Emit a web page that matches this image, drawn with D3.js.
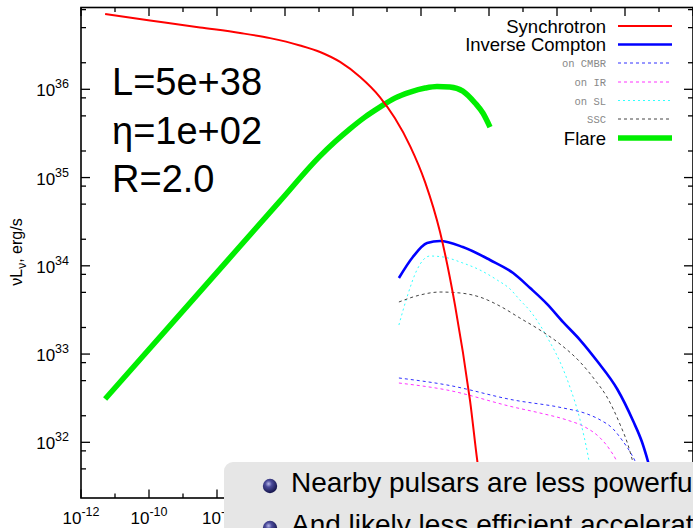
<!DOCTYPE html>
<html>
<head>
<meta charset="utf-8">
<script src="https://cdn.jsdelivr.net/npm/d3@7"></script>
<style>
  body { margin: 0; background: #fff; }
  svg { display: block; font-family: "Liberation Sans", Arial, sans-serif; }
</style>
</head>
<body>
<div id="chart"></div>
<script>
// curves, as [log10 nu, log10 nuL_nu]
const synchrotron = [[-11.29, 36.853], [-9.97, 36.781], [-8.5, 36.701], [-7.32, 36.638], [-6.44, 36.580],
    [-5.56, 36.497], [-4.97, 36.423], [-4.38, 36.310], [-3.79, 36.139], [-3.21, 35.912], [-2.77, 35.674],
    [-2.32, 35.357], [-1.88, 34.949], [-1.44, 34.382], [-1.0, 33.555], [-0.56, 32.479], [-0.27, 31.595], [-0.09, 31.33]];
const inverseCompton = [[-2.65, 33.862], [-2.24, 34.100], [-1.82, 34.258], [-1.44, 34.281], [-0.77, 34.213],
    [0.03, 34.066], [0.71, 33.918], [1.21, 33.748], [1.71, 33.566], [2.18, 33.362], [2.68, 33.159],
    [3.18, 32.921], [3.77, 32.604], [4.24, 32.241], [4.5, 32.003], [4.68, 31.777], [4.82, 31.573]];
const onCMBR = [[-2.65, 32.729], [-1.24, 32.650], [0.71, 32.480], [2.18, 32.389], [2.88, 32.322],
    [3.27, 32.254], [3.65, 32.152], [3.91, 32.027], [4.15, 31.891], [4.32, 31.766], [4.47, 31.596]];
const onIR = [[-2.65, 32.672], [-1.24, 32.593], [0.71, 32.400], [1.5, 32.332], [2.29, 32.253],
    [2.82, 32.174], [3.27, 32.049], [3.56, 31.913], [3.77, 31.766], [3.91, 31.573]];
const onSL = [[-2.65, 33.329], [-2.41, 33.647], [-2.12, 33.953], [-1.74, 34.111], [-1.35, 34.100],
    [-0.77, 34.032], [-0.27, 33.953], [0.24, 33.839], [0.62, 33.737], [0.91, 33.612], [1.21, 33.488],
    [1.5, 33.329], [1.79, 33.136], [2.09, 32.910], [2.38, 32.626], [2.68, 32.252], [2.91, 31.855], [3.03, 31.595]];
const ssc = [[-2.65, 33.590], [-2.03, 33.669], [-1.44, 33.703], [-0.85, 33.692], [-0.27, 33.646],
    [0.32, 33.544], [0.91, 33.408], [1.5, 33.272], [2.09, 33.113], [2.68, 32.909], [3.12, 32.705],
    [3.47, 32.513], [3.85, 32.207], [4.09, 31.969], [4.24, 31.766], [4.38, 31.573]];
const flare = [[-11.29, 32.491], [-8.5, 33.708], [-6.15, 34.733], [-4.97, 35.243], [-4.53, 35.405],
    [-4.09, 35.552], [-3.65, 35.685], [-3.21, 35.798], [-2.77, 35.900], [-2.32, 35.968], [-1.88, 36.014],
    [-1.53, 36.032], [-1.15, 36.026], [-0.77, 35.980], [-0.41, 35.845], [-0.18, 35.731], [0.03, 35.572]];

const legendNames = ["Synchrotron", "Inverse Compton", "on CMBR", "on IR", "on SL", "SSC", "Flare"];
const paramLines = ["L=5e+38", "\u03b7=1e+02", "R=2.0"];
const bulletLines = ["Nearby pulsars are less powerful", "And likely less efficient accelerators"];
const xExps = d3.range(-12, 7);
const yExps = d3.range(31, 37);

const width = 693, height = 528;
const svg = d3.select("#chart").append("svg")
    .attr("width", width)
    .attr("height", height);

const x = d3.scaleLog().domain([1e-12, 1e6]).range([81, 693]);
const y = d3.scaleLog().domain([Math.pow(10, 31.369), Math.pow(10, 36.927)]).range([498, 7.5]);

const series = [
    {data: synchrotron, color: "#ff0000", w: 2, dash: null},
    {data: inverseCompton, color: "#0000ff", w: 2.6, dash: null},
    {data: onCMBR, color: "#3030ff", w: 1, dash: "3,3"},
    {data: onIR, color: "#ff33ff", w: 1, dash: "3,3"},
    {data: onSL, color: "#33ffff", w: 1, dash: "2,3"},
    {data: ssc, color: "#444444", w: 1, dash: "3,3"},
    {data: flare, color: "#00ee00", w: 5.5, dash: null}
];

const line = d3.line()
    .x(d => x(Math.pow(10, d[0])))
    .y(d => y(Math.pow(10, d[1])))
    .curve(d3.curveMonotoneX);

const plot = svg.append("g");
plot.append("clipPath").attr("id", "clip")
    .append("rect").attr("x", 81).attr("y", 7.5).attr("width", 612).attr("height", 490.5);

// flare first, the model lines on top
const order = [6, 2, 3, 4, 5, 1, 0];
for (const i of order) {
    const s = series[i];
    plot.append("path")
        .attr("d", line(s.data))
        .attr("clip-path", "url(#clip)")
        .attr("fill", "none")
        .attr("stroke", s.color)
        .attr("stroke-width", s.w)
        .attr("stroke-dasharray", s.dash)
        .attr("stroke-linejoin", "round");
}

// frame
const axes = svg.append("g").attr("stroke", "#000");
axes.append("rect")
    .attr("x", 81).attr("y", 7.5).attr("width", 612).attr("height", 490.5)
    .attr("fill", "none").attr("stroke-width", 1.6);

// callout box starts here, labels further right are hidden under it
const boxX = 224;

// x ticks: every decade, labels on the even ones
for (const e of xExps) {
    const px = x(Math.pow(10, e));
    const len = e % 2 === 0 ? 8.5 : 4.5;
    axes.append("line").attr("x1", px).attr("x2", px).attr("y1", 498).attr("y2", 498 - len).attr("stroke-width", 1.3);
    axes.append("line").attr("x1", px).attr("x2", px).attr("y1", 7.5).attr("y2", 7.5 + len).attr("stroke-width", 1.3);
    if (e % 2 === 0 && px - 20 < boxX) {
        const t = svg.append("text")
            .attr("x", px).attr("y", 524)
            .attr("text-anchor", "middle")
            .attr("font-size", 17);
        t.append("tspan").text("10");
        t.append("tspan").attr("dy", -8).attr("font-size", 12.5).text(e);
    }
}

// y ticks: decades plus 2, 5, 8
const yMinor = [];
for (const e of yExps) for (const m of [2, 5, 8]) yMinor.push(m * Math.pow(10, e));
const [y0, y1] = y.domain();
for (const v of yMinor.filter(v => v > y0 && v < y1)) {
    const py = y(v);
    axes.append("line").attr("x1", 81).attr("x2", 86).attr("y1", py).attr("y2", py).attr("stroke-width", 1.3);
    axes.append("line").attr("x1", 693).attr("x2", 688).attr("y1", py).attr("y2", py).attr("stroke-width", 1.3);
}
for (const e of yExps.filter(e => e >= 32)) {
    const py = y(Math.pow(10, e));
    axes.append("line").attr("x1", 81).attr("x2", 90).attr("y1", py).attr("y2", py).attr("stroke-width", 1.3);
    axes.append("line").attr("x1", 693).attr("x2", 684).attr("y1", py).attr("y2", py).attr("stroke-width", 1.3);
    const t = svg.append("text")
        .attr("x", 69).attr("y", py + 7)
        .attr("text-anchor", "end")
        .attr("font-size", 17);
    t.append("tspan").text("10");
    t.append("tspan").attr("dy", -8).attr("font-size", 12.5).text(e);
}

// y axis title
const yt = svg.append("text")
    .attr("transform", "translate(22,252) rotate(-90)")
    .attr("text-anchor", "middle")
    .attr("font-size", 16);
yt.append("tspan").text("\u03bdL");
yt.append("tspan").attr("dy", 4).attr("font-size", 12).text("\u03bd");
yt.append("tspan").attr("dy", -4).text(", erg/s");

// parameters
svg.selectAll(".param")
    .data(paramLines)
    .enter()
    .append("text")
    .attr("class", "param")
    .attr("x", 112)
    .attr("y", (d, i) => 95 + i * 48.5)
    .attr("font-size", 38)
    .text(d => d);

// legend
const legY = [26, 44.5, 63, 82, 100.5, 119, 138];
legendNames.forEach((name, i) => {
    const s = series[i];
    const small = i >= 2 && i <= 5;
    svg.append("text")
        .attr("x", 606)
        .attr("y", legY[i] + (small ? 4 : 6.5))
        .attr("text-anchor", "end")
        .attr("font-family", small ? "'Liberation Mono', monospace" : null)
        .attr("font-size", small ? 10.5 : 18.5)
        .attr("fill", small ? "#888" : "#000")
        .text(name);
    svg.append("line")
        .attr("x1", 618).attr("x2", 672)
        .attr("y1", legY[i]).attr("y2", legY[i])
        .attr("stroke", s.color)
        .attr("stroke-width", s.w)
        .attr("stroke-dasharray", s.dash);
});

// callout box over the bottom
const defs = svg.append("defs");
const grad = defs.append("radialGradient").attr("id", "ball")
    .attr("cx", "40%").attr("cy", "35%").attr("r", "65%");
grad.append("stop").attr("offset", "0%").attr("stop-color", "#b8b8e8");
grad.append("stop").attr("offset", "35%").attr("stop-color", "#4a4a9a");
grad.append("stop").attr("offset", "100%").attr("stop-color", "#14144a");

svg.append("rect")
    .attr("x", boxX).attr("y", 462)
    .attr("width", 520).attr("height", 120)
    .attr("rx", 9)
    .attr("fill", "#e6e6e6");

bulletLines.forEach((txt, i) => {
    svg.append("circle")
        .attr("cx", 270).attr("cy", 486 + i * 42)
        .attr("r", 7.2)
        .attr("fill", "url(#ball)");
    svg.append("text")
        .attr("x", 291).attr("y", 492 + i * 42)
        .attr("font-size", 28)
        .attr("fill", "#000")
        .text(txt);
});
</script>
</body>
</html>
